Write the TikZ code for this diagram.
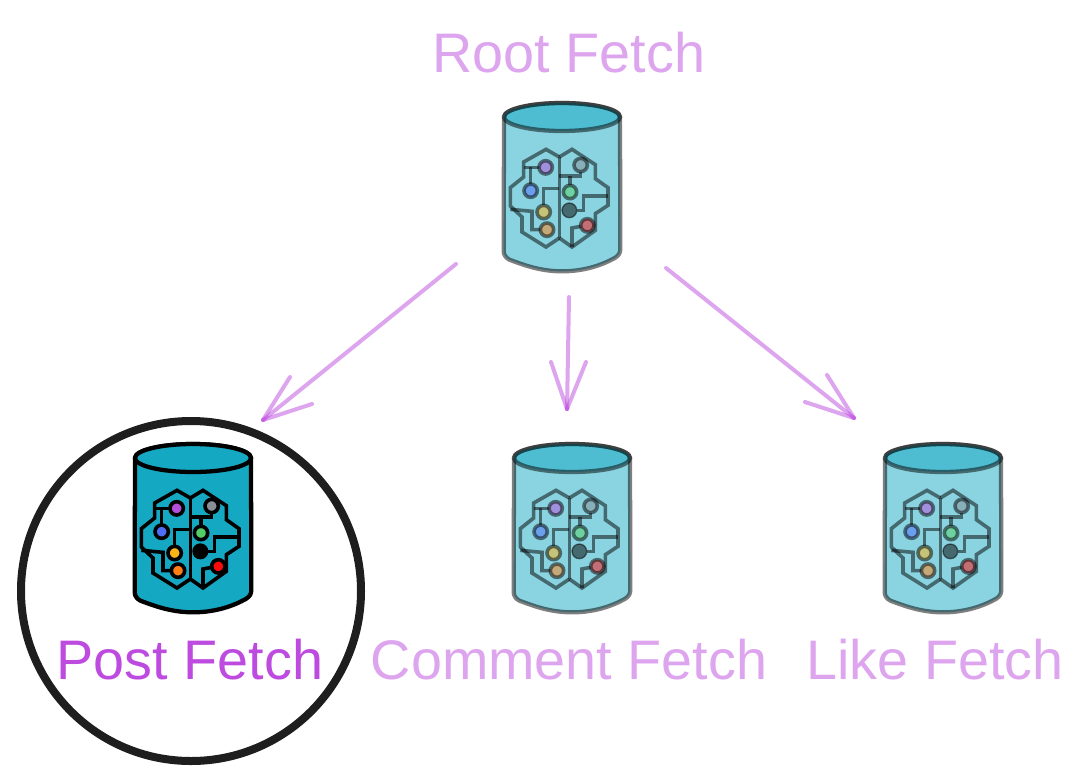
\documentclass[tikz,border=0pt]{standalone}
\usepackage{fontspec}
\setmainfont{Liberation Sans}
\definecolor{dbfill}{HTML}{15A8C2}
\definecolor{fetchpurple}{HTML}{BE4BE0}
\definecolor{ringblack}{HTML}{1E1E1E}
\definecolor{dotpurple}{HTML}{B44FD8}
\definecolor{dotgrey}{HTML}{868E96}
\definecolor{dotblue}{HTML}{4C6EF5}
\definecolor{dotgreen}{HTML}{51CF66}
\definecolor{dotyellow}{HTML}{FCB514}
\definecolor{dotorange}{HTML}{FD7E14}
\definecolor{dotred}{HTML}{FA0A0A}
\tikzset{
    faded/.style={opacity=0.5},
    fetchlabel/.style={font=\fontsize{41.8pt}{48pt}\selectfont, text=fetchpurple, anchor=base, inner sep=0pt},
    fetcharrow/.style={draw=fetchpurple, opacity=0.5, line width=3pt, line cap=round},
    wire/.style={draw=black, line width=2.7pt, line join=miter},
    dbicon/.pic={
        \begin{scope}[x=0.25pt, y=-0.25pt]
            % body and lid
            \filldraw[fill=dbfill, draw=black, line width=3.2pt, line join=round]
                (-174,-210) -- (-175,192)
                .. controls (-175,205) and (-168,212) .. (-158,218)
                .. controls (-125,230) and (-70,253) .. (0,253)
                .. controls (70,253) and (125,232) .. (160,212)
                .. controls (170,205) and (175,198) .. (175,185) -- (174,-210)
                arc [start angle=0, end angle=180, x radius=174, y radius=-42];
            \filldraw[fill=dbfill, draw=black, line width=3.2pt] (0,-210) ellipse [x radius=174, y radius=42];
            % brain outline
            \draw[wire] (-8,-90) -- (-48,-113) -- (-115,-75) -- (-115,-30) -- (-155,2) -- (-155,57)
                -- (-120,90) -- (-120,135) -- (-48,180) -- (-8,153);
            \draw[wire] (-8,-90) -- (30,-113) -- (100,-67) -- (100,-25) -- (138,2) -- (138,55)
                -- (100,80) -- (100,130) -- (30,180) -- (-8,153);
            \draw[wire] (-8,-90) -- (-8,153);
            % circuit lines
            \draw[wire] (-115,-59) -- (-69,-59);
            \draw[wire] (-94,-59) -- (-94,-9);
            \draw[wire] (56,-46) -- (56,-33) -- (-8,-33);
            \draw[wire] (24,-33) -- (24,-5);
            \draw[wire] (-55,55) -- (-55,5) -- (-8,5);
            \draw[wire] (-155,67) -- (-90,73) -- (-90,128) -- (-65,128);
            \draw[wire] (44,70) -- (65,70) -- (65,27) -- (138,27);
            \draw[wire] (56,118) -- (30,123) -- (30,180);
            % contact dots
            \foreach \dotx/\doty/\dotcolor in {-49/-59/dotpurple, 56/-66/dotgrey, -94/11/dotblue,
                24/15/dotgreen, -55/75/dotyellow, -45/128/dotorange, 76/115/dotred}
                \filldraw[fill=\dotcolor, draw=black, line width=2.7pt] (\dotx,\doty) circle [radius=20];
            \filldraw[fill=black, draw=black, line width=1pt] (22,70) circle [radius=22];
        \end{scope}
    }
}

\begin{document}
\begin{tikzpicture}[x=0.75pt, y=-0.75pt]
    \path[use as bounding box] (0,0) rectangle (1084,782);

    % Highlight ring behind the chosen fetch
    \node[circle, draw=ringblack, line width=6pt, minimum size=255pt, inner sep=0pt] (focus) at (191,591) {};

    % Databases
    \pic[faded] (rootdb) at (562,187) {dbicon};
    \pic (postdb) at (193,528) {dbicon};
    \pic[faded] (commentdb) at (572,528) {dbicon};
    \pic[faded] (likedb) at (943,528) {dbicon};

    % Labels
    \node[fetchlabel, faded] (rootlabel) at (569,72) {Root Fetch};
    \node[fetchlabel] (postlabel) at (190,679) {Post Fetch};
    \node[fetchlabel, faded] (commentlabel) at (569,679) {Comment Fetch};
    \node[fetchlabel, faded] (likelabel) at (935,679) {Like Fetch};

    % Arrow ends
    \coordinate (leftstart) at (456,264);
    \coordinate (leftend) at (263,420);
    \coordinate (midstart) at (569,297);
    \coordinate (midend) at (567,409);
    \coordinate (rightstart) at (666,268);
    \coordinate (rightend) at (854,418);

    % Arrows from the root fetch down to its children
    \draw[fetcharrow] (leftstart) -- (leftend);
    \draw[fetcharrow] (leftend) -- ++(27,-43);
    \draw[fetcharrow] (leftend) -- ++(49,-16);
    \draw[fetcharrow] (midstart) -- (midend);
    \draw[fetcharrow] (midend) -- ++(-16,-47);
    \draw[fetcharrow] (midend) -- ++(19,-47);
    \draw[fetcharrow] (rightstart) -- (rightend);
    \draw[fetcharrow] (rightend) -- ++(-27,-43);
    \draw[fetcharrow] (rightend) -- ++(-49,-16);

\end{tikzpicture}
\end{document}
